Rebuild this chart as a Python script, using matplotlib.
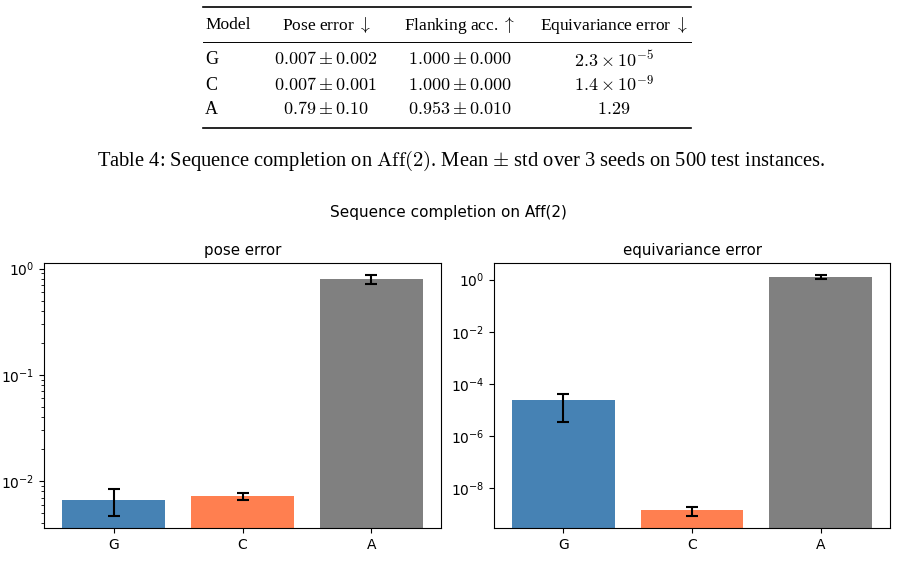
import matplotlib
matplotlib.use("Agg")
import matplotlib.pyplot as plt
from matplotlib.lines import Line2D

# table (as printed in the paper)
MODELS = ["G", "C", "A"]
TABLE_HEADER = ["Model", r"Pose error $\downarrow$", r"Flanking acc. $\uparrow$", r"Equivariance error $\downarrow$"]
POSE_CELLS = [r"$0.007 \pm 0.002$", r"$0.007 \pm 0.001$", r"$0.79 \pm 0.10$"]
FLANK_CELLS = [r"$1.000 \pm 0.000$", r"$1.000 \pm 0.000$", r"$0.953 \pm 0.010$"]
EQUIV_CELLS = [r"$2.3 \times 10^{-5}$", r"$1.4 \times 10^{-9}$", r"$1.29$"]
CAPTION = r"Table 4: Sequence completion on $\mathrm{Aff}(2)$. Mean $\pm$ std over 3 seeds on 500 test instances."

# bar chart values
POSE_MEAN = [0.0066, 0.0072, 0.79]
POSE_STD = [0.0019, 0.0006, 0.08]
EQUIV_MEAN = [2.3e-5, 1.4e-9, 1.30]
EQUIV_STD = [1.95e-5, 0.55e-9, 0.20]
BAR_COLORS = ["steelblue", "coral", "gray"]

W, H = 897, 581


def fx(px):
    return px / W


def fy(py):
    return 1 - py / H


def draw_table(fig):
    serif = ["Liberation Serif", "DejaVu Serif"]
    kw = dict(family=serif, math_fontfamily="cm", va="center")

    col_x = [205, 326, 460, 614]
    row_y = [60, 85, 110]

    fig.text(fx(col_x[0]), fy(25), TABLE_HEADER[0], ha="left", fontsize=12.5, **kw)
    for x, label in zip(col_x[1:], TABLE_HEADER[1:]):
        fig.text(fx(x), fy(25), label, ha="center", fontsize=12.5, **kw)

    for i, model in enumerate(MODELS):
        fig.text(fx(col_x[0]), fy(row_y[i]), model, ha="left", fontsize=13, **kw)
        fig.text(fx(col_x[1]), fy(row_y[i]), POSE_CELLS[i], ha="center", fontsize=13, **kw)
        fig.text(fx(col_x[2]), fy(row_y[i]), FLANK_CELLS[i], ha="center", fontsize=13, **kw)
        fig.text(fx(col_x[3]), fy(row_y[i]), EQUIV_CELLS[i], ha="center", fontsize=13, **kw)

    for y, lw in [(7, 1.2), (42, 0.7), (128, 1.2)]:
        fig.add_artist(Line2D([fx(203), fx(691)], [fy(y), fy(y)], color="black", lw=lw))

    fig.text(fx(461), fy(161), CAPTION, ha="center", va="center", fontsize=14.8,
             family=serif, math_fontfamily="cm")


def bar_panel(ax, means, stds, title):
    ax.bar(MODELS, means, yerr=stds, color=BAR_COLORS, capsize=4,
           error_kw=dict(ecolor="black", elinewidth=1.5, capthick=1.5))
    ax.set_yscale("log")
    ax.set_title(title, fontsize=10.8)
    ax.tick_params(labelsize=10)


def main():
    fig = plt.figure(figsize=(W / 100, H / 100), dpi=100)
    draw_table(fig)

    fig.text(0.5, fy(212), "Sequence completion on Aff(2)", ha="center", va="center", fontsize=11)

    ax1 = fig.add_axes([fx(44), fy(528), fx(441) - fx(44), fy(263) - fy(528)])
    ax2 = fig.add_axes([fx(494), fy(528), fx(890) - fx(494), fy(263) - fy(528)])
    bar_panel(ax1, POSE_MEAN, POSE_STD, "pose error")
    bar_panel(ax2, EQUIV_MEAN, EQUIV_STD, "equivariance error")

    fig.savefig("out.png", dpi=100)
    plt.close(fig)


if __name__ == "__main__":
    main()
